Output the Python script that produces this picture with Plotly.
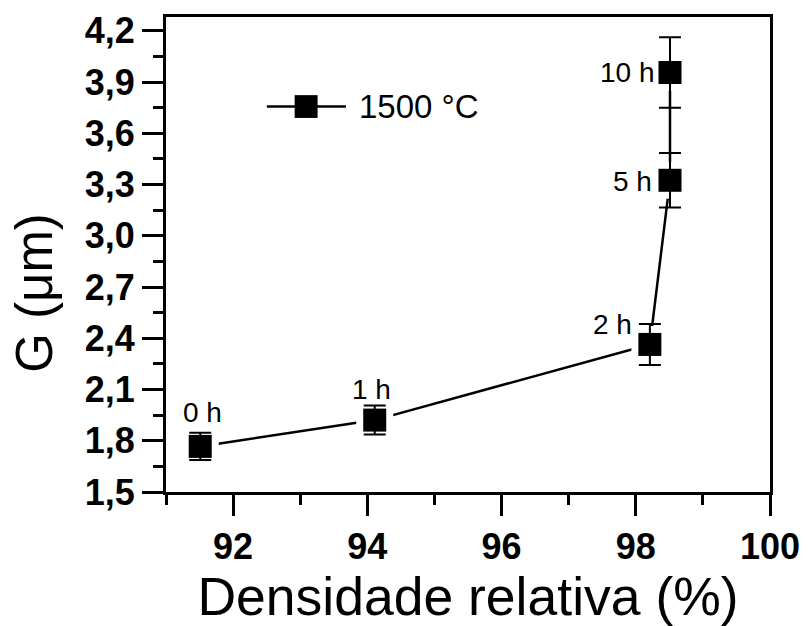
import plotly.graph_objects as go

# ---- data ----
density = [91.51, 94.11, 98.21, 98.51, 98.51]          # Densidade relativa (%)
grain = [1.767, 1.921, 2.364, 3.325, 3.956]            # G (µm)
grain_err = [0.08, 0.085, 0.12, 0.16, 0.207]           # error bars
time_labels = ["0 h", "1 h", "2 h", "5 h", "10 h"]
series_name = "1500 °C"
x_ticks = [92, 94, 96, 98, 100]
y_ticks = [1.5, 1.8, 2.1, 2.4, 2.7, 3.0, 3.3, 3.6, 3.9, 4.2]

# label offsets (px) relative to each point: styling only
label_shift = [(2, 34), (-3, 31), (-37, 20), (-38, -1), (-43, 0)]

FONT = "Liberation Sans, Arial, sans-serif"

fig = go.Figure()

# connecting line
fig.add_trace(go.Scatter(x=density, y=grain, mode="lines",
                         line=dict(color="black", width=2.5),
                         showlegend=False, hoverinfo="skip"))
# white halo to create the gap between line and markers
fig.add_trace(go.Scatter(x=density, y=grain, mode="markers",
                         marker=dict(symbol="square", size=37, color="white",
                                     line=dict(width=0)),
                         showlegend=False, hoverinfo="skip"))
# markers with error bars
fig.add_trace(go.Scatter(x=density, y=grain, mode="markers", name=series_name,
                         marker=dict(symbol="square", size=23, color="black",
                                     line=dict(width=0)),
                         error_y=dict(type="data", array=grain_err, visible=True,
                                      color="black", thickness=2, width=11),
                         showlegend=False))

for xv, yv, txt, (dx, dy) in zip(density, grain, time_labels, label_shift):
    fig.add_annotation(x=xv, y=yv, text=txt, showarrow=False,
                       xshift=dx, yshift=dy, xanchor="center", yanchor="middle",
                       font=dict(family=FONT, size=28, color="black"))

# manual legend
fig.add_shape(type="line", xref="paper", yref="paper", x0=0.167, x1=0.298,
              y0=0.8116, y1=0.8116, line=dict(color="black", width=2.5))
fig.add_shape(type="rect", xref="paper", yref="paper", x0=0.213, x1=0.251,
              y0=0.7875, y1=0.8355, fillcolor="black", line=dict(width=0))
fig.add_annotation(xref="paper", yref="paper", x=0.316, y=0.8116, text=series_name,
                   showarrow=False, xanchor="left", yanchor="middle",
                   font=dict(family=FONT, size=33, color="black"))

# y-axis title as annotation (offset downward as in the reference)
fig.add_annotation(xref="paper", yref="paper", x=-0.218, y=0.42, text="G (μm)",
                   textangle=-90, showarrow=False, xanchor="center", yanchor="middle",
                   font=dict(family=FONT, size=51, color="black"))

x_text = ["<b>%d</b>" % v for v in x_ticks]
y_text = ["<b>" + ("%.1f" % v).replace(".", ",") + "</b>" for v in y_ticks]

fig.update_xaxes(range=[91, 100], tickvals=x_ticks, ticktext=x_text,
                 ticks="outside", ticklen=21, tickwidth=3, tickcolor="black",
                 minor=dict(dtick=1, tick0=91, ticks="outside", ticklen=10,
                            tickwidth=3, tickcolor="black"),
                 showline=True, linewidth=3, linecolor="black", mirror=True,
                 showgrid=False, zeroline=False,
                 tickfont=dict(family=FONT, size=36, color="black"),
                 title=dict(text="Densidade relativa (%)", standoff=10,
                            font=dict(family=FONT, size=53.5, color="black")))
fig.update_yaxes(range=[1.5, 4.281], tickvals=y_ticks, ticktext=y_text,
                 ticks="outside", ticklen=21, tickwidth=3, tickcolor="black",
                 minor=dict(dtick=0.15, tick0=1.5, ticks="outside", ticklen=10,
                            tickwidth=3, tickcolor="black"),
                 showline=True, linewidth=3, linecolor="black", mirror=True,
                 showgrid=False, zeroline=False,
                 tickfont=dict(family=FONT, size=36, color="black"))

fig.update_layout(width=811, height=626,
                  margin=dict(l=166, r=35, t=11, b=132),
                  plot_bgcolor="white", paper_bgcolor="white",
                  showlegend=False)

fig.write_html("out.html")
